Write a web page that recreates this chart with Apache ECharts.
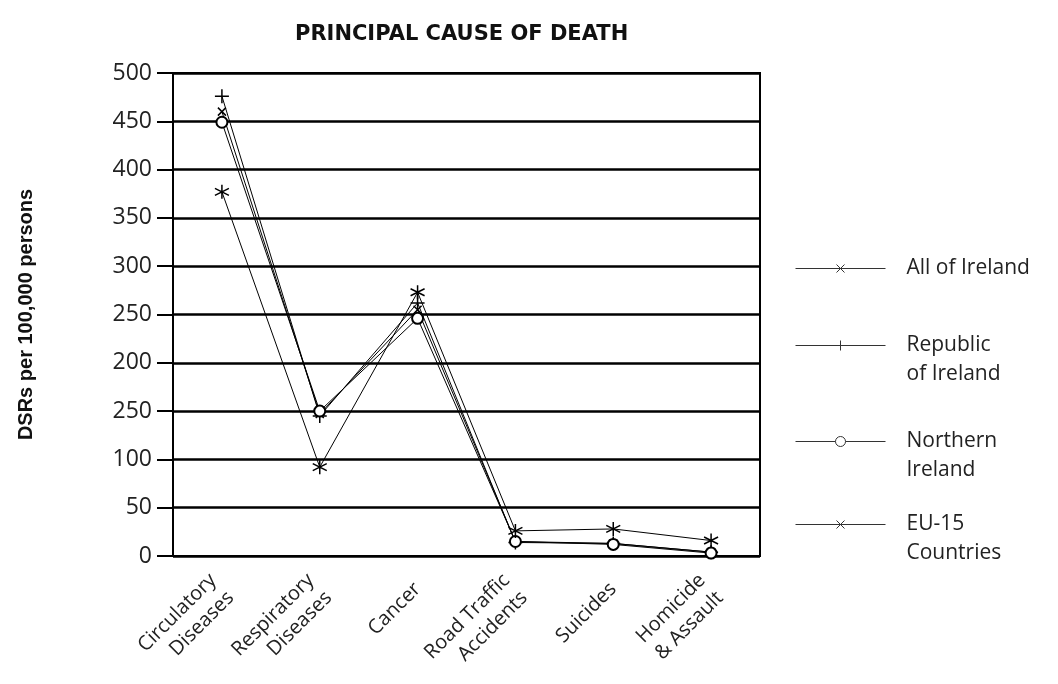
<!DOCTYPE html>
<html>
<head>
<meta charset="utf-8">
<script src="https://cdn.jsdelivr.net/npm/echarts@6/dist/echarts.min.js"></script>
<style>
  html, body { margin: 0; padding: 0; background: #fff; }
  #mychart { width: 1058px; height: 684px; }
</style>
</head>
<body>
<div id="mychart"></div>
<script>
// data
const categories = ['Circulatory\nDiseases', 'Respiratory\nDiseases', 'Cancer', 'Road Traffic\nAccidents', 'Suicides', 'Homicide\n& Assault'];
const allIreland = [460, 147, 255, 15, 13, 4];
const republic = [476, 145, 262, 14, 13, 4];
const northern = [449, 150, 246, 15, 12, 3];
const eu15 = [377, 92, 273, 26, 28, 16];
// tick labels as printed (the 150 tick reads "250" in the original)
const yTickLabels = ['0', '50', '100', '250', '200', '250', '300', '350', '400', '450', '500'];

const font = 'Open Sans';
const xMark = 'path://M0,0L10,10M10,0L0,10';
const plusMark = 'path://M5,0L5,10M0,5L10,5';
const starMark = 'path://M5,0L5,10M0,2.5L10,7.5M0,7.5L10,2.5';

let myChart = echarts.init(document.getElementById('mychart'));

const markStyle = { color: '#000', borderColor: '#000', borderWidth: 1.5 };
const lineStyle = { color: '#000', width: 1 };

function legendFor(name, label, icon, top) {
  return {
    data: [{ name: name, icon: icon }],
    left: 795,
    top: top,
    padding: 0,
    itemWidth: 90,
    itemHeight: 12,
    itemGap: 0,
    selectedMode: false,
    formatter: () => label,
    itemStyle: { color: '#fff', borderColor: '#333', borderWidth: 1 },
    textStyle: { fontFamily: font, fontSize: 21, color: '#222', lineHeight: 29, padding: [0, 0, 0, 16] }
  };
}

myChart.setOption({
  animation: false,
  title: {
    text: 'PRINCIPAL CAUSE OF DEATH',
    left: 290,
    top: 19,
    textStyle: { fontFamily: 'DejaVu Sans', fontSize: 21, fontWeight: 'bold', color: '#111' }
  },
  legend: [
    legendFor('All of Ireland', 'All of Ireland', 'path://M0,6L90,6M41,2L49,10M49,2L41,10', 254),
    legendFor('Republic of Ireland', '\nRepublic\nof Ireland', 'path://M0,6L90,6M45,1L45,11', 302),
    legendFor('Northern Ireland', '\nNorthern\nIreland', 'path://M0,6L40,6M50,6L90,6M50,6A5,5,0,1,1,40,6A5,5,0,1,1,50,6', 398),
    legendFor('EU-15 Countries', '\nEU-15\nCountries', 'path://M0,6L90,6M41,2L49,10M49,2L41,10', 481)
  ],
  grid: {
    left: 173,
    right: 298,
    top: 73,
    bottom: 128,
    outerBoundsMode: 'none',
    show: true,
    borderColor: '#000',
    borderWidth: 2
  },
  xAxis: {
    type: 'category',
    data: categories,
    boundaryGap: true,
    axisLine: { lineStyle: { color: '#000', width: 2 } },
    axisTick: { length: 17, interval: 0, lineStyle: { color: '#000', width: 2 } },
    axisLabel: {
      interval: 0,
      rotate: 45,
      margin: 30,
      fontFamily: font,
      fontSize: 20,
      color: '#222',
      lineHeight: 25
    }
  },
  yAxis: {
    type: 'value',
    min: 0,
    max: 500,
    interval: 50,
    name: 'DSRs per 100,000 persons',
    nameLocation: 'middle',
    nameRotate: 90,
    nameGap: 137,
    nameTextStyle: { fontFamily: 'Liberation Sans', fontSize: 20, fontWeight: 'bold', color: '#111' },
    axisLine: { show: true, lineStyle: { color: '#000', width: 2 } },
    axisTick: { show: true, length: 16, lineStyle: { color: '#000', width: 2 } },
    axisLabel: {
      margin: 21,
      fontFamily: font,
      fontSize: 23,
      color: '#222',
      formatter: (v) => yTickLabels[Math.round(v / 50)]
    },
    splitLine: { lineStyle: { color: '#000', width: 2.5 } }
  },
  series: [
    {
      name: 'All of Ireland',
      type: 'line',
      data: allIreland,
      symbol: xMark,
      symbolSize: 8,
      itemStyle: markStyle,
      lineStyle: lineStyle
    },
    {
      name: 'Republic of Ireland',
      type: 'line',
      data: republic,
      symbol: plusMark,
      symbolSize: 14,
      itemStyle: markStyle,
      lineStyle: lineStyle
    },
    {
      name: 'Northern Ireland',
      type: 'line',
      data: northern,
      symbol: 'emptyCircle',
      symbolSize: 11,
      itemStyle: { color: '#000', borderColor: '#000', borderWidth: 1.2 },
      lineStyle: lineStyle
    },
    {
      name: 'EU-15 Countries',
      type: 'line',
      data: eu15,
      symbol: starMark,
      symbolSize: 14,
      itemStyle: markStyle,
      lineStyle: lineStyle
    }
  ]
});
</script>
</body>
</html>
